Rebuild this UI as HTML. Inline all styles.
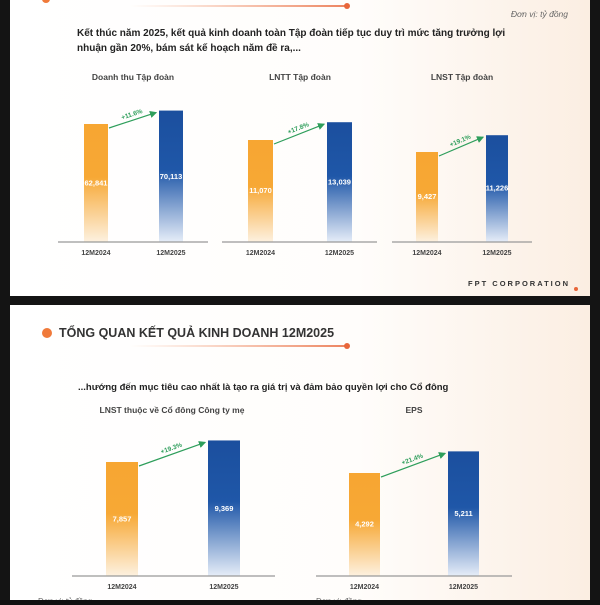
<!DOCTYPE html>
<html><head><meta charset="utf-8">
<style>
html,body{margin:0;padding:0;background:#111;}
body{width:600px;height:600px;overflow:hidden;font-family:"Liberation Sans",sans-serif;}
svg text{font-family:"Liberation Sans",sans-serif;}
</style></head>
<body>
<svg id="chart" width="600" height="600" viewBox="0 0 600 600" xmlns="http://www.w3.org/2000/svg">
<defs>
<linearGradient id="bgG" x1="0" y1="0" x2="1" y2="0">
<stop offset="0" stop-color="#ffffff"/><stop offset="0.6" stop-color="#fffdfb"/><stop offset="1" stop-color="#fbeee2"/>
</linearGradient>
<linearGradient id="orG" x1="0" y1="0" x2="0" y2="1">
<stop offset="0" stop-color="#f7a632"/><stop offset="0.45" stop-color="#f7a835"/><stop offset="1" stop-color="#fdf1e0"/>
</linearGradient>
<linearGradient id="blG" x1="0" y1="0" x2="0" y2="1">
<stop offset="0" stop-color="#1b4f9e"/><stop offset="0.45" stop-color="#1f57a8"/><stop offset="1" stop-color="#e6edf8"/>
</linearGradient>
<linearGradient id="lineG" x1="0" y1="0" x2="1" y2="0">
<stop offset="0" stop-color="#f08a5a" stop-opacity="0"/><stop offset="1" stop-color="#e8663a"/>
</linearGradient>
<marker id="arr" markerWidth="6" markerHeight="6" refX="5" refY="3" orient="auto"><path d="M0,0 L6,3 L0,6 z" fill="#2e9e5b"/></marker>
</defs>
<rect x="0" y="0" width="600" height="600" fill="#141414"/>
<rect x="10" y="0" width="580" height="296" fill="url(#bgG)"/>
<rect x="10" y="305" width="580" height="295" fill="url(#bgG)"/>
<g id="top-header">
<circle cx="46" cy="-1" r="4" fill="#f07a3a"/>
<rect x="130" y="5.2" width="216" height="1.6" fill="url(#lineG)"/>
<circle cx="347" cy="6" r="3" fill="#e8663a"/>
<text x="568" y="17" font-size="8.5" font-style="italic" fill="#666" text-anchor="end">Đơn vị: tỷ đồng</text>
<text x="77" y="36" font-size="10" font-weight="bold" fill="#222">Kết thúc năm 2025, kết quả kinh doanh toàn Tập đoàn tiếp tục duy trì mức tăng trưởng lợi</text>
<text x="77" y="51" font-size="10" font-weight="bold" fill="#222">nhuận gần 20%, bám sát kế hoạch năm đề ra,...</text>
<text x="570" y="286" font-size="7.5" font-weight="bold" fill="#333" text-anchor="end" letter-spacing="2">FPT CORPORATION</text>
<circle cx="576" cy="289" r="2" fill="#e8663a"/>
</g>
<g id="bottom-header">
<circle cx="47" cy="333" r="5" fill="#f07a3a"/>
<text x="59" y="337" font-size="12.5" font-weight="bold" fill="#333">TỔNG QUAN KẾT QUẢ KINH DOANH 12M2025</text>
<rect x="130" y="345.2" width="216" height="1.6" fill="url(#lineG)"/>
<circle cx="347" cy="346" r="3" fill="#e8663a"/>
<text x="78" y="390" font-size="9.5" font-weight="bold" fill="#222">...hướng đến mục tiêu cao nhất là tạo ra giá trị và đảm bảo quyền lợi cho Cổ đông</text>
<text x="38" y="604" font-size="8" fill="#666">Đơn vị: tỷ đồng</text>
<text x="316" y="604" font-size="8" fill="#666">Đơn vị: đồng</text>
</g>
<g id="charts"></g>
</svg>
<script>
const chartTitles = ["Doanh thu Tập đoàn", "LNTT Tập đoàn", "LNST Tập đoàn", "LNST thuộc về Cổ đông Công ty mẹ", "EPS"];
const categories = ["12M2024", "12M2025"];
const values2024 = [62841, 11070, 9427, 7857, 4292];
const values2025 = [70113, 13039, 11226, 9369, 5211];
const valueLabels2024 = ["62,841", "11,070", "9,427", "7,857", "4,292"];
const valueLabels2025 = ["70,113", "13,039", "11,226", "9,369", "5,211"];
const growthLabels = ["+11.6%", "+17.8%", "+19.1%", "+19.3%", "+21.4%"];

// layout (not data)
const layouts = [
  {x0:58,x1:208,base:242,titleY:80,titleX:133,bx:[84,159],bw:24,scale:116/62841,lblY:255},
  {x0:222,x1:377,base:242,titleY:80,titleX:300,bx:[248,327],bw:25,scale:100/11070,lblY:255},
  {x0:392,x1:532,base:242,titleY:80,titleX:462,bx:[416,486],bw:22,scale:88/9427,lblY:255},
  {x0:72,x1:275,base:576,titleY:413,titleX:172,bx:[106,208],bw:32,scale:112/7857,lblY:589},
  {x0:316,x1:512,base:576,titleY:413,titleX:414,bx:[349,448],bw:31,scale:101/4292,lblY:589}
];
const NS="http://www.w3.org/2000/svg";
const root=document.getElementById('charts');
function mk(tag,attrs,parent){const e=document.createElementNS(NS,tag);for(const k in attrs)e.setAttribute(k,attrs[k]);parent.appendChild(e);return e;}
layouts.forEach((L,i)=>{
  const g=mk('g',{},root);
  
  
  const y=v=>L.base-2-v*L.scale;
  const t=mk('text',{x:L.titleX,y:L.titleY,'font-size':8.5,'font-weight':'bold',fill:'#444','text-anchor':'middle'},g);
  t.textContent=chartTitles[i];
  
  
  const vals=[values2024[i],values2025[i]];
  const labs=[valueLabels2024[i],valueLabels2025[i]];
  vals.forEach((v,j)=>{
    const top=y(v), h=L.base-top;
    const r=mk('rect',{x:L.bx[j],y:top,width:L.bw,height:h,fill:j?'url(#blG)':'url(#orG)'},g);
    
    
    const vt=mk('text',{x:L.bx[j]+L.bw/2,y:top+h*0.52,'font-size':7.5,'font-weight':'bold',fill:'#fff','text-anchor':'middle'},g);
    vt.textContent=labs[j];
    
    
    const ct=mk('text',{x:L.bx[j]+L.bw/2,y:L.lblY,'font-size':7,'font-weight':'bold',fill:'#444','text-anchor':'middle'},g);
    ct.textContent=categories[j];
    
    
  });
  const base=mk('line',{x1:L.x0,x2:L.x1,y1:L.base,y2:L.base,stroke:'#999','stroke-width':1.2},g);
  
  
  const ax=L.bx[0]+L.bw+1, ay=y(vals[0])+4, bx=L.bx[1]-3, by=y(vals[1])+2;
  const a=mk('line',{x1:ax,y1:ay,x2:bx,y2:by,stroke:'#2e9e5b','stroke-width':1.2,'marker-end':'url(#arr)'},g);
  
  
  const ang=Math.atan2(by-ay,bx-ax)*180/Math.PI;
  const mx=(ax+bx)/2, my=(ay+by)/2-4;
  const gt=mk('text',{x:mx,y:my,'font-size':6.5,'font-weight':'bold',fill:'#2e9e5b','text-anchor':'middle',transform:`rotate(${ang} ${mx} ${my})`},g);
  gt.textContent=growthLabels[i];
  
  
});
</script>
</body></html>
